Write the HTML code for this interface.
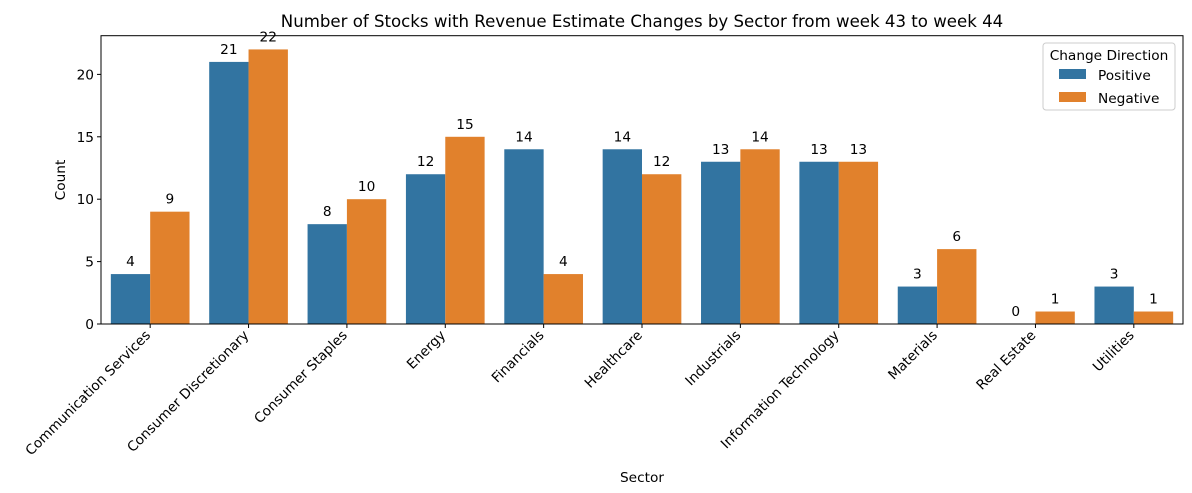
<!DOCTYPE html>
<html><head><meta charset="utf-8"><style>body{margin:0;background:#fff}svg{font-family:"DejaVu Sans","Liberation Sans",sans-serif}</style></head>
<body>
<svg id="chart" width="1192" height="488">
<text x="642" y="27" text-anchor="middle" font-size="16.6">Number of Stocks with Revenue Estimate Changes by Sector from week 43 to week 44</text>
<g id="marks"></g>
<g id="axes"></g>
<text x="642" y="482" text-anchor="middle" font-size="13.7">Sector</text>
<text transform="translate(65,180) rotate(-90)" text-anchor="middle" font-size="13.7">Count</text>
<g>
<rect x="1043" y="43" width="132" height="67" rx="3" fill="#fff" fill-opacity="0.8" stroke="#ccc"/>
<text x="1109" y="60" text-anchor="middle" font-size="13.7">Change Direction</text>
<rect x="1059" y="69" width="27" height="10" fill="#3274a1"/>
<text x="1098" y="80" font-size="13.7">Positive</text>
<rect x="1059" y="92" width="27" height="10" fill="#e1812c"/>
<text x="1098" y="103" font-size="13.7">Negative</text>
</g>
</svg>
<script>
const categories = ["Communication Services","Consumer Discretionary","Consumer Staples","Energy","Financials","Healthcare","Industrials","Information Technology","Materials","Real Estate","Utilities"];
const positive = [4,21,8,12,14,14,13,13,3,0,3];
const negative = [9,22,10,15,4,12,14,13,6,1,1];
const yTicks = [0,5,10,15,20];
const NS="http://www.w3.org/2000/svg";
const L=101,R=1183,T=35.7,B=324;
const yMax=Math.max(...positive,...negative)*1.05;
const y=v=>B-(v/yMax)*(B-T);
const band=(R-L)/categories.length;
const xc=i=>L+band*(i+0.5);
const bw=band*0.4;
const marks=document.getElementById('marks'),axes=document.getElementById('axes');
function mk(tag,attrs,parent,text){const e=document.createElementNS(NS,tag);for(const k in attrs)e.setAttribute(k,attrs[k]);if(text!==undefined)e.textContent=text;parent.appendChild(e);return e;}
categories.forEach((c,i)=>{
  [[positive,'#3274a1',-1,'positive'],[negative,'#e1812c',0,'negative']].forEach(([arr,col,off,nm])=>{
    const v=arr[i];const x0=xc(i)+off*bw;
    const r=mk('rect',{x:x0,y:y(v),width:bw,height:B-y(v),fill:col},marks);
    
    
    const t=mk('text',{x:x0+bw/2,y:y(v)-8,'text-anchor':'middle','font-size':13.7},marks,String(v));
    
    
  });
  mk('line',{x1:xc(i),x2:xc(i),y1:B,y2:B+4,stroke:'#000'},axes);
  const lb=mk('text',{transform:`translate(${xc(i)+1},${B+12}) rotate(-45)`,'text-anchor':'end','font-size':13.7},axes,c);
  
  
});
yTicks.forEach(v=>{
  mk('line',{x1:L-4,x2:L,y1:y(v),y2:y(v),stroke:'#000'},axes);
  const t=mk('text',{x:L-7,y:y(v)+5,'text-anchor':'end','font-size':13.7},axes,String(v));
  
  
});
const fr=mk('rect',{x:L,y:T,width:R-L,height:B-T,fill:'none',stroke:'#000','stroke-width':1},axes);


</script>
</body></html>
